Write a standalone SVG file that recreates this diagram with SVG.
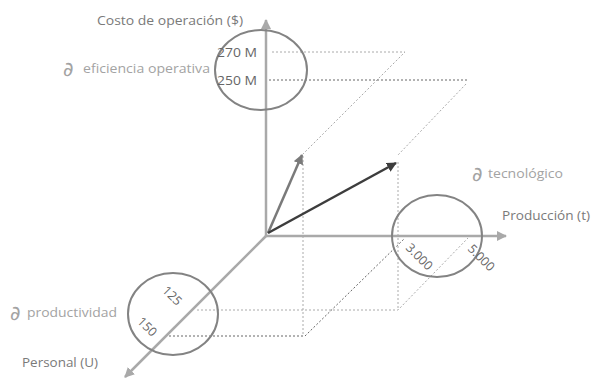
<svg xmlns="http://www.w3.org/2000/svg" width="597" height="382" viewBox="0 0 597 382">
<style>
text{font-family:"Open Sans","Noto Sans","Liberation Sans",sans-serif;}
.ax{fill:#7a7a7a;font-size:12.5px;}
.lb{fill:#a3a3a3;font-size:12.5px;}
.dl{fill:#a3a3a3;font-size:20px;font-family:"DejaVu Sans",sans-serif;}
.val{fill:#666;font-size:12.5px;}
.axis{stroke:#a9a9a9;stroke-width:2.5;fill:none;}
.ell{stroke:#838383;stroke-width:2;fill:none;}
.dot{stroke:#aaa;stroke-width:1;stroke-dasharray:2 2;fill:none;}
.dotd{stroke:#666;stroke-width:1;stroke-dasharray:2 2;fill:none;}
</style>
<defs>
<marker id="ha" viewBox="0 0 10 10" refX="9" refY="5" markerWidth="4" markerHeight="4" orient="auto" markerUnits="strokeWidth"><path d="M0,0L10,5L0,10z" fill="#a9a9a9"/></marker>
<marker id="hg" viewBox="0 0 10 10" refX="9" refY="5" markerWidth="4" markerHeight="4" orient="auto" markerUnits="strokeWidth"><path d="M0,0L10,5L0,10z" fill="#7a7a7a"/></marker>
<marker id="hd" viewBox="0 0 10 10" refX="9" refY="5" markerWidth="4" markerHeight="4" orient="auto" markerUnits="strokeWidth"><path d="M0,0L10,5L0,10z" fill="#3d3d3d"/></marker>
</defs>
<rect width="597" height="382" fill="#fff"/>
<g id="connectors">
<path class="dot" d="M272,52H405L303,154"/>
<path class="dotd" d="M265,80H468"/>
<path class="dot" d="M466,84L398,155"/>
<path class="dot" d="M303,156V336"/>
<path class="dot" d="M398,162V310"/>
<path class="dot" d="M197,310H398L468,238"/>
<path class="dotd" d="M165,336H305L405,238"/>
<line class="axis" x1="266" y1="236" x2="266" y2="20" marker-end="url(#ha)"/>
<line class="axis" x1="266" y1="236" x2="506" y2="236" marker-end="url(#ha)"/>
<line class="axis" x1="266" y1="236" x2="125" y2="377" marker-end="url(#ha)"/>
<line x1="268" y1="233" x2="302" y2="155" stroke="#7a7a7a" stroke-width="2.5" marker-end="url(#hg)"/>
<line x1="268" y1="233" x2="396" y2="163" stroke="#3d3d3d" stroke-width="2.5" marker-end="url(#hd)"/>
</g>
<g id="axis-costo"><text class="ax" x="97" y="25" textLength="146" lengthAdjust="spacingAndGlyphs">Costo de operación ($)</text></g>
<g id="axis-produccion"><text class="ax" x="502" y="220" textLength="88" lengthAdjust="spacingAndGlyphs">Producción (t)</text></g>
<g id="axis-personal"><text class="ax" x="22" y="367" textLength="76" lengthAdjust="spacingAndGlyphs">Personal (U)</text></g>
<g id="eficiencia">
<ellipse class="ell" cx="261" cy="70" rx="46" ry="40"/>
<text class="val" x="217" y="57" textLength="40" lengthAdjust="spacingAndGlyphs">270 M</text>
<text class="val" x="217" y="85" textLength="40" lengthAdjust="spacingAndGlyphs">250 M</text>
<text class="dl" x="63" y="76">∂</text>
<text class="lb" x="83" y="73" textLength="127" lengthAdjust="spacingAndGlyphs">eficiencia operativa</text>
</g>
<g id="tecnologico">
<ellipse class="ell" cx="437" cy="236" rx="45" ry="41"/>
<text class="val" transform="translate(419,257) rotate(45)" text-anchor="middle" dy="4">3.000</text>
<text class="val" transform="translate(481,258) rotate(45)" text-anchor="middle" dy="4">5.000</text>
<text class="dl" x="472" y="181">∂</text>
<text class="lb" x="488" y="178" textLength="75" lengthAdjust="spacingAndGlyphs">tecnológico</text>
</g>
<g id="productividad">
<ellipse class="ell" cx="173" cy="314" rx="45" ry="41"/>
<text class="val" transform="translate(172,296) rotate(45)" text-anchor="middle" dy="4">125</text>
<text class="val" transform="translate(147,327) rotate(45)" text-anchor="middle" dy="4">150</text>
<text class="dl" x="10" y="320">∂</text>
<text class="lb" x="27" y="317" textLength="90" lengthAdjust="spacingAndGlyphs">productividad</text>
</g>
</svg>
